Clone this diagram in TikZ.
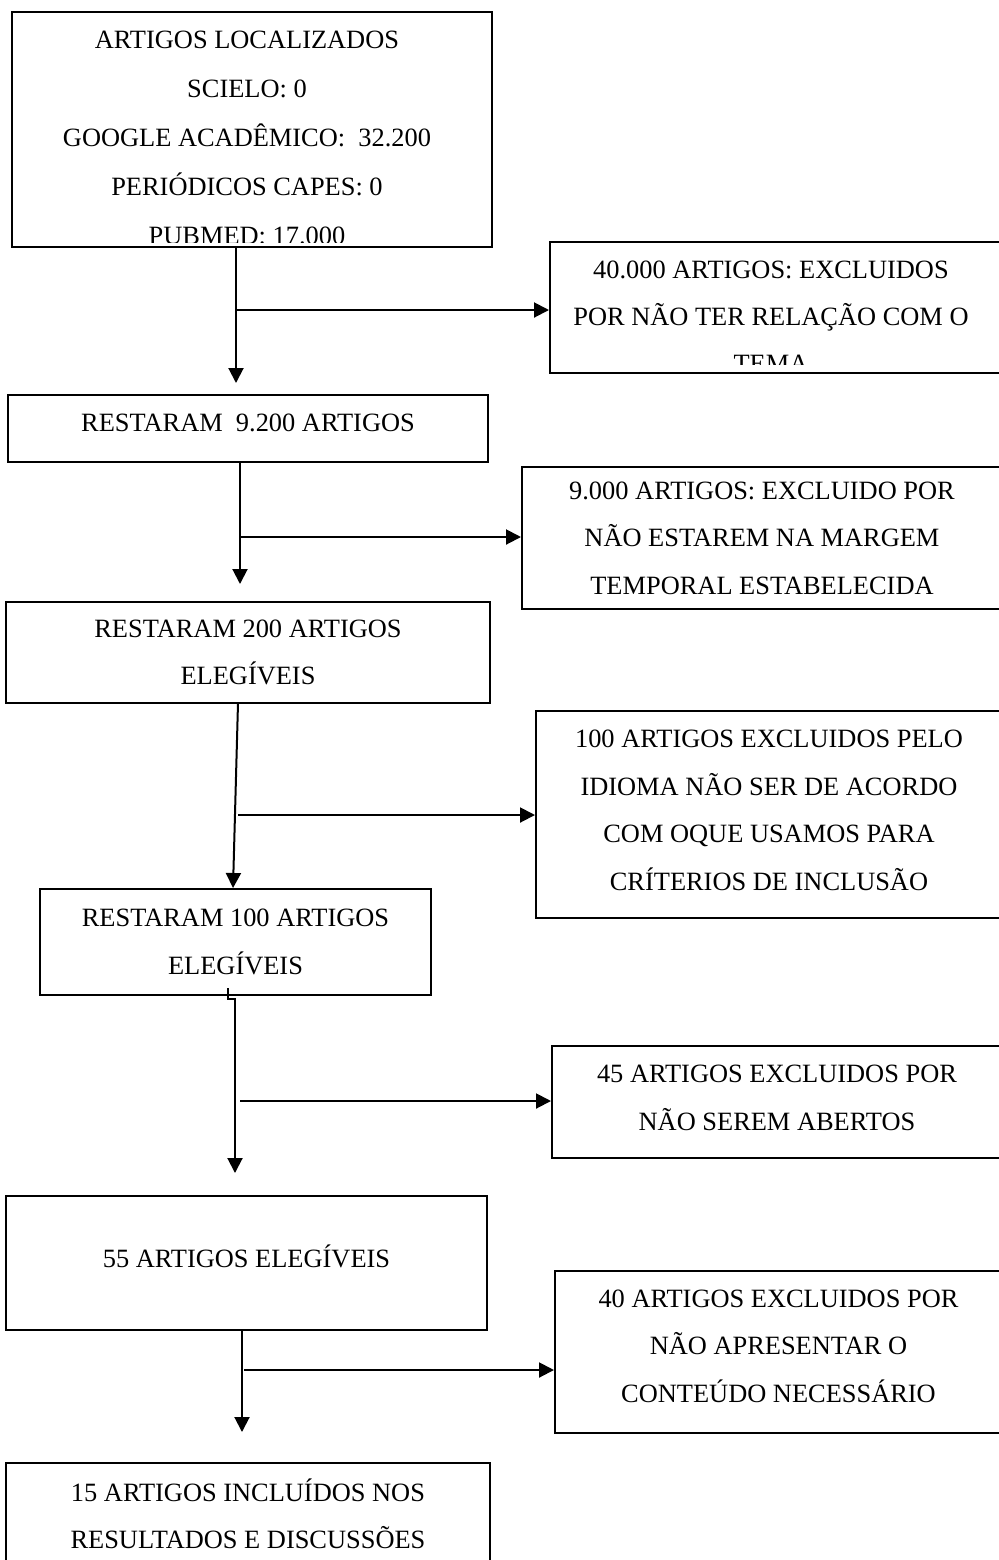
\documentclass[tikz,border=0pt]{standalone}
\usepackage{fontspec}
\setmainfont{Liberation Serif}
\usetikzlibrary{arrows.meta}

\begin{document}
\begin{tikzpicture}[
    x=0.5pt, y=-0.5pt,
    font=\fontsize{13.2}{23.75}\selectfont,
    box/.style={draw, line width=1pt, align=center, inner sep=0pt},
    arrow/.style={-{Triangle[length=7.5pt, width=7.5pt]}, line width=1pt}
]
    \useasboundingbox (0,0) rectangle (999,1560);

    % main column
    \node[box, minimum width=240pt, minimum height=117.5pt] (loc) at (252,129.5) {};
    \node[box, minimum width=240pt, minimum height=33.5pt, text depth=6pt] (rest1) at (248,428.5) {RESTARAM\ \ 9.200 ARTIGOS};
    \node[box, minimum width=242pt, minimum height=50.5pt] (rest2) at (248,652.5) {RESTARAM 200 ARTIGOS\\ELEGÍVEIS};
    \node[box, minimum width=195.5pt, minimum height=53pt] (rest3) at (235.5,942) {RESTARAM 100 ARTIGOS\\ELEGÍVEIS};
    \node[box, minimum width=240.5pt, minimum height=67pt, text depth=7pt] (eleg) at (246.5,1263) {55 ARTIGOS ELEGÍVEIS};
    \node[box, minimum width=242pt, minimum height=51pt] (incl) at (248,1514) {15 ARTIGOS INCLUÍDOS NOS\\RESULTADOS E DISCUSSÕES};

    % excluded column
    \node[box, minimum width=226pt, minimum height=65.5pt] (exc1) at (776,307.5) {};
    \node[box, minimum width=240pt, minimum height=71pt] (exc2) at (762,538) {9.000 ARTIGOS: EXCLUIDO POR\\NÃO ESTAREM NA MARGEM\\TEMPORAL ESTABELECIDA};
    \node[box, minimum width=233pt, minimum height=103.5pt, text depth=4.5pt] (exc3) at (769,814.5) {100 ARTIGOS EXCLUIDOS PELO\\IDIOMA NÃO SER DE ACORDO\\COM OQUE USAMOS PARA\\CRÍTERIOS DE INCLUSÃO};
    \node[box, minimum width=225pt, minimum height=56pt, text depth=4.5pt] (exc4) at (777,1102) {45 ARTIGOS EXCLUIDOS POR\\NÃO SEREM ABERTOS};
    \node[box, minimum width=223.5pt, minimum height=81pt, text depth=6pt] (exc5) at (778.5,1352) {40 ARTIGOS EXCLUIDOS POR\\NÃO APRESENTAR O\\CONTEÚDO NECESSÁRIO};

    % text cut off by the box
    \begin{scope}
        \clip (loc.north west) rectangle ([yshift=3pt]loc.south east);
        \node[align=center, font=\fontsize{13.2}{24.5}\selectfont] (loctxt) at (247,138) {ARTIGOS LOCALIZADOS\\SCIELO: 0\\GOOGLE ACADÊMICO:\ \ 32.200\\PERIÓDICOS CAPES: 0\\PUBMED: 17.000};
    \end{scope}
    \begin{scope}
        \clip (exc1.north west) rectangle ([yshift=5pt]exc1.south east);
        \node[align=center, font=\fontsize{13.2}{23.5}\selectfont] (exc1txt) at (771,317) {40.000 ARTIGOS: EXCLUIDOS\\POR NÃO TER RELAÇÃO COM O\\TEMA};
    \end{scope}

    % arrow ends and branch points
    \coordinate (t1) at (236,383);
    \coordinate (b1) at (236,310);
    \coordinate (t2) at (240,584);
    \coordinate (b2) at (240,537);
    \coordinate (s3) at (238,703);
    \coordinate (t3) at (233,888);
    \coordinate (b3) at (238,815);
    \coordinate (s4) at (228,988);
    \coordinate (k4) at (235,999);
    \coordinate (t4) at (235,1173);
    \coordinate (b4) at (240,1101);
    \coordinate (t5) at (242,1432);
    \coordinate (b5) at (244,1370);

    \draw[arrow] (loc.south -| t1) -- (t1);
    \draw[arrow] (b1) -- (b1 -| exc1.west);
    \draw[arrow] (rest1.south -| t2) -- (t2);
    \draw[arrow] (b2) -- (b2 -| exc2.west);
    \draw[arrow] (s3) -- (t3);
    \draw[arrow] (b3) -- (b3 -| exc3.west);
    \draw[arrow] (s4) |- (k4) -- (t4);
    \draw[arrow] (b4) -- (b4 -| exc4.west);
    \draw[arrow] (eleg.south -| t5) -- (t5);
    \draw[arrow] (b5) -- (b5 -| exc5.west);
\end{tikzpicture}
\end{document}
